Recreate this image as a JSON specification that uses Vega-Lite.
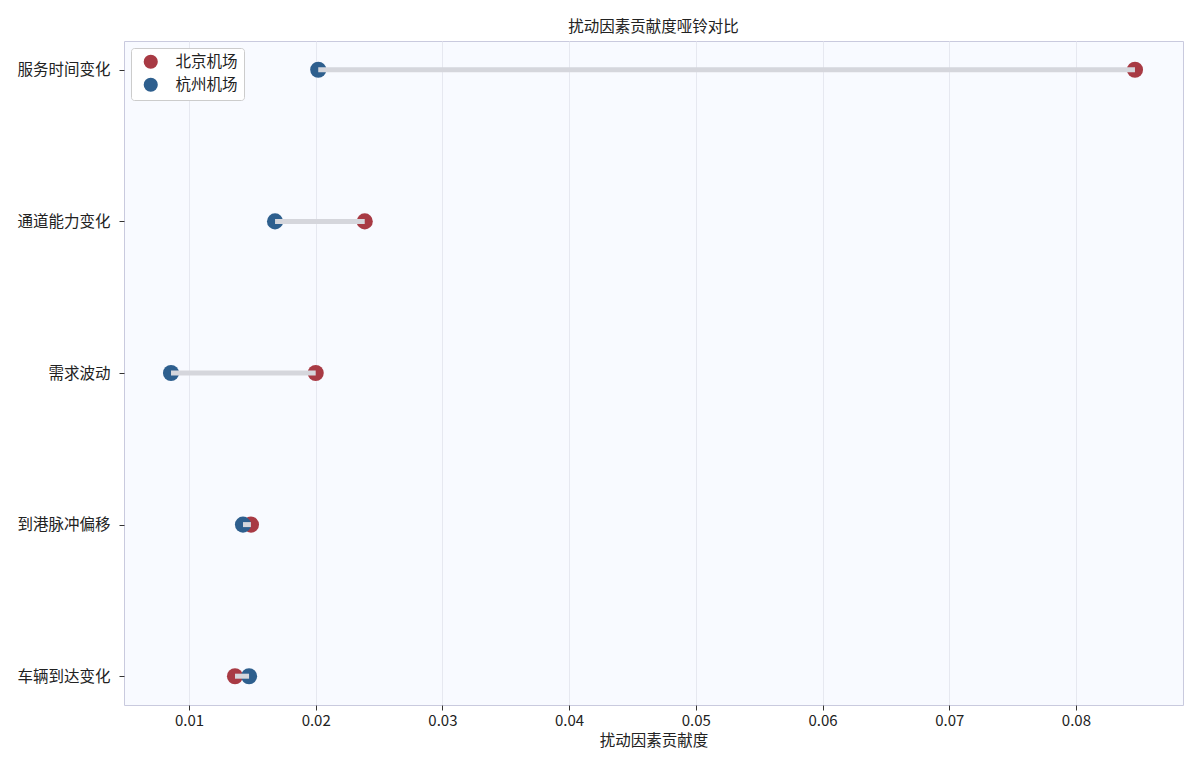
{
  "$schema": "https://vega.github.io/schema/vega-lite/v6.json",
  "autosize": {"type": "none"},
  "width": 1059,
  "height": 664,
  "padding": {"left": 124, "top": 41, "right": 17, "bottom": 72},
  "background": "white",
  "config": {
    "font": "Noto Sans CJK SC",
    "view": {"fill": "#f8faff", "stroke": "#c9cade", "strokeWidth": 1},
    "axis": {"labelFont": "Noto Sans CJK SC", "titleFont": "Noto Sans CJK SC", "labelColor": "#222", "titleColor": "#222", "domain": false, "tickColor": "#333"}
  },
  "title": {"text": "扰动因素贡献度哑铃对比", "fontSize": 15.5, "fontWeight": "normal", "color": "#222", "offset": 6, "font": "Noto Sans CJK SC"},
  "data": {"values": [
    {"factor": "服务时间变化", "airport": "北京机场", "value": 0.08466},
    {"factor": "服务时间变化", "airport": "杭州机场", "value": 0.0202},
    {"factor": "通道能力变化", "airport": "北京机场", "value": 0.02387},
    {"factor": "通道能力变化", "airport": "杭州机场", "value": 0.01679},
    {"factor": "需求波动", "airport": "北京机场", "value": 0.0200},
    {"factor": "需求波动", "airport": "杭州机场", "value": 0.00858},
    {"factor": "到港脉冲偏移", "airport": "北京机场", "value": 0.01489},
    {"factor": "到港脉冲偏移", "airport": "杭州机场", "value": 0.01426},
    {"factor": "车辆到达变化", "airport": "北京机场", "value": 0.01363},
    {"factor": "车辆到达变化", "airport": "杭州机场", "value": 0.01474}
  ]},
  "encoding": {
    "y": {"field": "factor", "type": "nominal",
      "sort": ["服务时间变化", "通道能力变化", "需求波动", "到港脉冲偏移", "车辆到达变化"],
      "scale": {"type": "point", "padding": 0.19},
      "axis": {"title": null, "labelFontSize": 15.5, "tickSize": 5, "labelPadding": 9, "grid": false}},
    "x": {"field": "value", "type": "quantitative",
      "scale": {"domain": [0.00487, 0.08845], "nice": false, "zero": false},
      "axis": {"title": "扰动因素贡献度", "titleFontSize": 15.5, "titleFontWeight": "normal", "labelFontSize": 15, "values": [0.01, 0.02, 0.03, 0.04, 0.05, 0.06, 0.07, 0.08], "format": ".2f", "grid": true, "gridColor": "#e6e8f0", "gridWidth": 1, "tickSize": 5, "labelPadding": 3, "titlePadding": 5}}
  },
  "layer": [
    {
      "mark": {"type": "circle", "size": 260, "opacity": 1},
      "encoding": {
        "color": {"field": "airport", "type": "nominal",
          "scale": {"domain": ["北京机场", "杭州机场"], "range": ["#a83a44", "#2e5f8e"]},
          "legend": {"title": null, "orient": "top-left", "offset": 7, "labelFontSize": 15.5, "symbolSize": 200, "symbolType": "circle", "symbolStrokeWidth": 0, "symbolOffset": 6, "fillColor": "#ffffff", "strokeColor": "#cccccc", "padding": 6, "cornerRadius": 3, "rowPadding": 6, "labelOffset": 17, "labelColor": "#222"}
        }
      }
    },
    {
      "mark": {"type": "line", "color": "#d5d6dc", "strokeWidth": 5, "strokeCap": "butt"},
      "encoding": {"detail": {"field": "factor"}}
    }
  ]
}
